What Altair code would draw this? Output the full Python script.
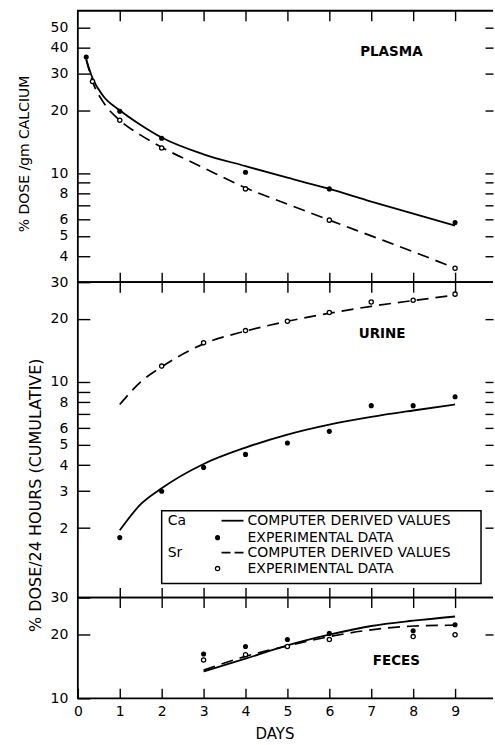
import altair as alt
import pandas as pd

FONT = "DejaVu Sans"
X_MAX = 9.905
W = 416

# ---------------- data ----------------
# PLASMA
plasma_ca_curve_days = [0.2, 0.35, 0.6, 1, 1.5, 2, 3, 4, 5, 6, 7, 8, 9]
plasma_ca_curve_vals = [35, 28.5, 23.5, 20, 17, 14.8, 12.3, 10.8, 9.5, 8.4, 7.3, 6.4, 5.6]
plasma_sr_curve_days = [0.2, 0.35, 0.6, 1, 1.5, 2, 3, 4, 5, 6, 7, 8, 9]
plasma_sr_curve_vals = [35, 27.5, 22, 17.9, 15.2, 13.3, 10.6, 8.5, 7.1, 5.95, 5.0, 4.2, 3.5]
plasma_ca_pt_days = [0.2, 1, 2, 4, 6, 9]
plasma_ca_pt_vals = [36, 19.8, 14.7, 10.1, 8.4, 5.8]
plasma_sr_pt_days = [0.35, 1, 2, 4, 6, 9]
plasma_sr_pt_vals = [27.5, 17.9, 13.2, 8.4, 5.95, 3.5]

# URINE
urine_ca_curve_days = [1, 1.5, 2, 3, 4, 5, 6, 7, 8, 9]
urine_ca_curve_vals = [1.95, 2.6, 3.1, 4.05, 4.85, 5.6, 6.25, 6.8, 7.3, 7.8]
urine_sr_curve_days = [1, 1.5, 2, 3, 4, 5, 6, 7, 8, 9]
urine_sr_curve_vals = [7.8, 10.0, 11.8, 15.2, 17.5, 19.5, 21.3, 23.0, 24.5, 26.0]
urine_ca_pt_days = [1, 2, 3, 4, 5, 6, 7, 8, 9]
urine_ca_pt_vals = [1.8, 3.0, 3.9, 4.5, 5.1, 5.8, 7.7, 7.7, 8.5]
urine_sr_pt_days = [2, 3, 4, 5, 6, 7, 8, 9]
urine_sr_pt_vals = [11.9, 15.4, 17.6, 19.5, 21.5, 24.1, 24.6, 26.3]

# FECES
feces_ca_curve_days = [3, 4, 5, 6, 7, 8, 9]
feces_ca_curve_vals = [13.4, 15.4, 17.8, 20.0, 22.0, 23.3, 24.4]
feces_sr_curve_days = [3, 4, 5, 6, 7, 8, 9]
feces_sr_curve_vals = [13.6, 15.8, 17.7, 19.6, 21.1, 22.0, 22.2]
feces_ca_pt_days = [3, 4, 5, 6, 8, 9]
feces_ca_pt_vals = [16.2, 17.6, 19.0, 20.3, 20.9, 22.3]
feces_sr_pt_days = [3, 4, 5, 6, 8, 9]
feces_sr_pt_vals = [15.2, 16.1, 17.6, 19.0, 19.6, 20.0]

# axes / tick values
day_ticks = [1, 2, 3, 4, 5, 6, 7, 8, 9]
day_labels = [0, 1, 2, 3, 4, 5, 6, 7, 8, 9]
plasma_ticks = [50, 40, 30, 20, 10, 9, 8, 7, 6, 5, 4]
urine_ticks = [30, 20, 10, 9, 8, 7, 6, 5, 4, 3, 2]
urine_right_ticks = [20, 10, 9, 8, 7, 6, 5, 4, 3, 2]
feces_ticks = [30, 20, 10]
feces_right_ticks = [20]

plasma_domain = [3, 60]
urine_domain = [0.93, 30]
feces_domain = [10, 30]

panel_names = ["PLASMA", "URINE", "FECES"]
panel_name_days = [7.48, 7.26, 7.6]
panel_name_vals = [38, 16.9, 15.1]

legend_lines = ["COMPUTER  DERIVED  VALUES", "EXPERIMENTAL  DATA",
                "COMPUTER  DERIVED  VALUES", "EXPERIMENTAL  DATA"]
legend_elements = ["Ca", "Sr"]

HIDE = "(datum.value == 9 || datum.value == 7) ? '' : datum.label"


def df(d, v):
    return pd.DataFrame({"day": d, "v": v})


def xsc():
    return alt.Scale(domain=[0, X_MAX], nice=False, zero=False)


def ysc(dom):
    return alt.Scale(type="log", domain=dom, nice=False)


def panel(dom, height, ca_c, sr_c, ca_p, sr_p, left_axis, bottom_axis,
          right_vals, idx, extra=None):
    top_axis = alt.Axis(orient="top", values=day_ticks, offset=-10, tickSize=10,
                        domain=False, labels=False, title=None)
    right_axis = alt.Axis(orient="right", values=right_vals, offset=-8, tickSize=8,
                          domain=False, labels=False, title=None)
    line_ca = alt.Chart(ca_c).mark_line(
        color="black", strokeWidth=1.8, interpolate="monotone"
    ).encode(
        x=alt.X("day:Q", scale=xsc(), axis=bottom_axis),
        y=alt.Y("v:Q", scale=ysc(dom), axis=left_axis),
    )
    line_sr = alt.Chart(sr_c).mark_line(
        color="black", strokeWidth=1.7, strokeDash=[12, 7], interpolate="monotone"
    ).encode(
        x=alt.X("day:Q", scale=xsc(), axis=top_axis),
        y=alt.Y("v:Q", scale=ysc(dom), axis=right_axis),
    )
    pts_ca = alt.Chart(ca_p).mark_point(
        shape="circle", filled=True, color="black", size=26, opacity=1
    ).encode(
        x=alt.X("day:Q", scale=xsc(), axis=None),
        y=alt.Y("v:Q", scale=ysc(dom), axis=None),
    )
    pts_sr = alt.Chart(sr_p).mark_point(
        shape="circle", filled=True, fill="white", stroke="black",
        strokeWidth=1.3, size=18, opacity=1
    ).encode(
        x=alt.X("day:Q", scale=xsc(), axis=None),
        y=alt.Y("v:Q", scale=ysc(dom), axis=None),
    )
    name = alt.Chart(pd.DataFrame({"day": [panel_name_days[idx]],
                                   "v": [panel_name_vals[idx]],
                                   "t": [panel_names[idx]]})).mark_text(
        font=FONT, fontSize=13.5, fontWeight="bold", color="black",
        align="center", baseline="middle"
    ).encode(
        x=alt.X("day:Q", scale=xsc(), axis=None),
        y=alt.Y("v:Q", scale=ysc(dom), axis=None),
        text="t:N",
    )
    layers = [line_ca, line_sr, pts_ca, pts_sr, name]
    if extra:
        layers += extra
    return alt.layer(*layers).resolve_scale(x="independent", y="independent").properties(
        width=W, height=height,
        view=alt.ViewBackground(stroke="black", strokeWidth=1.8,
                                strokeDash=[W, height, W + height + 20], fill="white"),
    )


def ticks_bottom():
    return alt.Axis(orient="bottom", values=day_ticks, offset=-10, tickSize=10,
                    domain=False, labels=False, title=None)


def left_axis(vals, title=None, title_x=-65, title_y=None, title_size=14):
    kw = dict(orient="left", values=vals, offset=-12, tickSize=12, domain=False,
              labelPadding=10, labelExpr=HIDE, format="d", labelOverlap=False,
              labelFontSize=14, labelFlush=False)
    if title:
        kw.update(title=title, titleFontSize=title_size, titleFontWeight="normal",
                  titleX=title_x, titleY=title_y, titleAlign="center",
                  titleBaseline="middle", titleAngle=270)
    else:
        kw.update(title=None)
    return alt.Axis(**kw)


# ---------------- legend (inside urine panel) ----------------
one = pd.DataFrame({"a": [0]})


def ltext(t, x, y):
    return alt.Chart(one).mark_text(
        font=FONT, fontSize=14, color="black", align="left", baseline="middle"
    ).encode(x=alt.value(x), y=alt.value(y), text=alt.value(t))


legend_layers = [
    alt.Chart(one).mark_rect(fill="white", stroke="black", strokeWidth=1.5).encode(
        x=alt.value(84), x2=alt.value(404), y=alt.value(229), y2=alt.value(302)),
    ltext(legend_elements[0], 90, 239),
    alt.Chart(one).mark_rule(color="black", strokeWidth=1.8).encode(
        x=alt.value(144), x2=alt.value(166), y=alt.value(239)),
    ltext(legend_lines[0], 170, 239),
    alt.Chart(one).mark_point(shape="circle", filled=True, color="black",
                              size=26, opacity=1).encode(
        x=alt.value(140), y=alt.value(256)),
    ltext(legend_lines[1], 170, 256),
    ltext(legend_elements[1], 90, 271),
    alt.Chart(one).mark_rule(color="black", strokeWidth=1.7, strokeDash=[9, 4]).encode(
        x=alt.value(144), x2=alt.value(166), y=alt.value(271)),
    ltext(legend_lines[2], 170, 271),
    alt.Chart(one).mark_point(shape="circle", filled=True, fill="white", stroke="black",
                              strokeWidth=1.3, size=18, opacity=1).encode(
        x=alt.value(140), y=alt.value(287)),
    ltext(legend_lines[3], 170, 287),
]

# ---------------- panels ----------------
plasma = panel(
    plasma_domain, 272,
    df(plasma_ca_curve_days, plasma_ca_curve_vals),
    df(plasma_sr_curve_days, plasma_sr_curve_vals),
    df(plasma_ca_pt_days, plasma_ca_pt_vals),
    df(plasma_sr_pt_days, plasma_sr_pt_vals),
    left_axis(plasma_ticks, "% DOSE /gm CALCIUM", -65, 143, 14),
    ticks_bottom(), plasma_ticks, 0,
)

urine = panel(
    urine_domain, 316,
    df(urine_ca_curve_days, urine_ca_curve_vals),
    df(urine_sr_curve_days, urine_sr_curve_vals),
    df(urine_ca_pt_days, urine_ca_pt_vals),
    df(urine_sr_pt_days, urine_sr_pt_vals),
    left_axis(urine_ticks, "% DOSE/24 HOURS (CUMULATIVE)", -54, 213, 16),
    ticks_bottom(), urine_right_ticks, 1, extra=legend_layers,
)

feces_bottom = alt.Axis(orient="bottom", values=day_labels, offset=-10, tickSize=10,
                        domain=False, labelPadding=6, labelFontSize=14, labelFlush=False,
                        title="DAYS", titleFontSize=15, titleFontWeight="normal",
                        titlePadding=8, titleX=197)

feces = panel(
    feces_domain, 101,
    df(feces_ca_curve_days, feces_ca_curve_vals),
    df(feces_sr_curve_days, feces_sr_curve_vals),
    df(feces_ca_pt_days, feces_ca_pt_vals),
    df(feces_sr_pt_days, feces_sr_pt_vals),
    left_axis(feces_ticks),
    feces_bottom, feces_right_ticks, 2,
)

chart = alt.vconcat(plasma, urine, feces, spacing=0, bounds="flush").properties(
    padding={"left": 17, "top": 8, "right": 0, "bottom": 0},
    background="white",
).configure_axis(
    grid=False, tickColor="black", tickWidth=1.4, labelColor="black",
    titleColor="black", labelFont=FONT, titleFont=FONT,
).configure_view(stroke="black", strokeWidth=1.8)

chart.save("out.html", embed_options={"renderer": "svg", "actions": False})
